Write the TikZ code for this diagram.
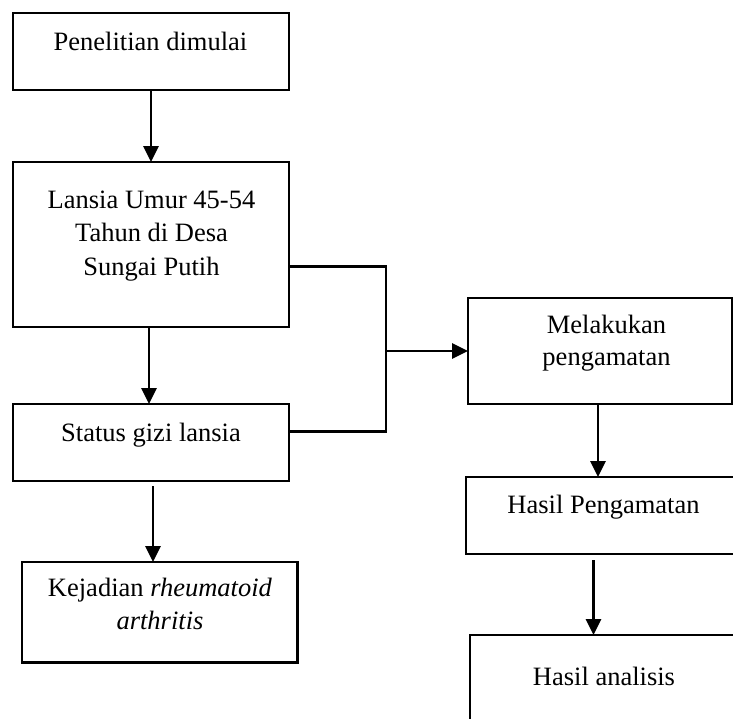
\documentclass[tikz,border=0pt]{standalone}
\usepackage{fontspec}
\setmainfont{Liberation Serif}
\usetikzlibrary{arrows.meta}
\begin{document}
\begin{tikzpicture}[x=1pt,y=-1pt,
  box/.style={draw=black,line width=2.7pt,rectangle,inner sep=0pt,outer sep=0pt},
  txt/.style={anchor=base,inner sep=0pt,font=\fontsize{26.5}{33}\selectfont},
  arr/.style={line width=2.7pt,-{Triangle[length=16pt,width=15pt]}},
  ln/.style={line width=2.7pt}]
\useasboundingbox (0,0) rectangle (733,718);
\clip (0,0) rectangle (733,718);
% boxes
\node[box,minimum width=276pt,minimum height=77pt] (b1) at (151,51.5) {};
\node[box,minimum width=276pt,minimum height=165pt] (b2) at (151,244.5) {};
\node[box,minimum width=276pt,minimum height=77pt] (b3) at (151,442.5) {};
\node[box,minimum width=275.7pt,minimum height=100.7pt] (b4) at (159.85,612.35) {};
\node[box,minimum width=264pt,minimum height=106pt] (b5) at (600,351) {};
\node[box,minimum width=274pt,minimum height=77pt] (b6) at (603,515.5) {};
\node[box,minimum width=270pt,minimum height=95pt] (b7) at (605,682.5) {};
% texts
\node[txt] (t1) at (150.5,50) {Penelitian dimulai};
\node[txt] (t2a) at (151.5,208.3) {Lansia Umur 45-54};
\node[txt] (t2b) at (151.5,241.7) {Tahun di Desa};
\node[txt] (t2c) at (151.5,275) {Sungai Putih};
\node[txt] (t3) at (151,441) {Status gizi lansia};
\node[txt] (t4a) at (160,596.7) {Kejadian \textit{rheumatoid}};
\node[txt] (t4b) at (160,629.3) {\textit{arthritis}};
\node[txt] (t5a) at (606.5,333.3) {Melakukan};
\node[txt] (t5b) at (606.5,365.7) {pengamatan};
\node[txt] (t6) at (603.5,513.3) {Hasil Pengamatan};
\node[txt] (t7) at (604,685) {Hasil analisis};
% junction coordinates
\coordinate (j1) at (386,266.7);
\coordinate (j2) at (386,431.7);
\coordinate (jm) at (386,351);
\coordinate (s3) at (153,486);
\coordinate (s5) at (598,404);
\coordinate (s6) at (593.5,560);
\coordinate (s2) at (149,327);
% connectors
\draw[arr] (b1.south) -- (b2.north);
\draw[arr] (s2) -- (s2 |- b3.north);
\draw[arr] (s3) -- (s3 |- b4.north);
\draw[ln] (b2.east |- j1) -- (j1) -- (j2) -- (b3.east |- j2);
\draw[arr] (jm) -- (b5.west);
\draw[arr] (s5) -- (s5 |- b6.north);
\draw[arr] (s6) -- (s6 |- b7.north);
\end{tikzpicture}
\end{document}
